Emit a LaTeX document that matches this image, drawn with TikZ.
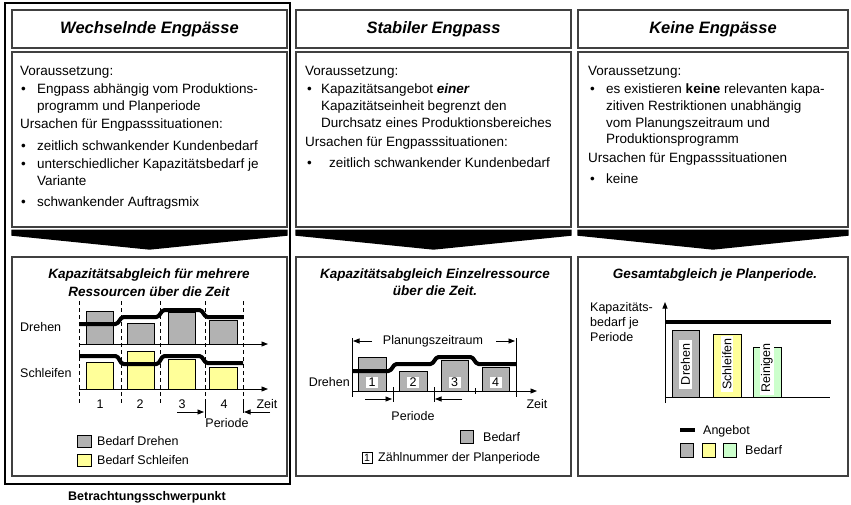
\documentclass[tikz,border=0pt]{standalone}
\usepackage{fontspec}
\setmainfont{Liberation Sans}
\usetikzlibrary{arrows.meta}
\definecolor{barGray}{RGB}{178,178,178}
\definecolor{barYellow}{RGB}{255,255,153}
\definecolor{barGreen}{RGB}{204,255,204}
\begin{document}
\begin{tikzpicture}[x=1pt,y=-1pt,
  panel/.style={draw=black!75, line width=1.4pt, inner sep=0},
  txt/.style={anchor=base west, inner sep=0, font=\fontsize{13.5}{16}\selectfont},
  ctitle/.style={anchor=base, inner sep=0, font=\fontsize{13.5}{16}\bfseries\itshape\selectfont},
  lbl/.style={inner sep=0, font=\fontsize{12.5}{15}\selectfont},
  barbox/.style={draw=black, line width=0.8pt},
  supply/.style={line width=4pt, line join=round, rounded corners=1.5pt},
  axisline/.style={line width=0.9pt},
  arrowline/.style={-{Triangle[length=6.5pt,width=5pt]}},
  chevron/.style={fill=black},
  dashline/.style={dash pattern=on 4pt off 3pt, line width=0.8pt},
  numbox/.style={fill=white, inner sep=0, minimum width=12pt, minimum height=11pt, font=\fontsize{12.5}{15}\selectfont}
]
\useasboundingbox (0,0) rectangle (851,505);

% ---------- panels ----------
\node[panel, minimum width=275pt, minimum height=38pt] (t1) at (149.5,29) {\fontsize{16.5}{19}\bfseries\itshape\selectfont Wechselnde Engpässe};
\node[panel, minimum width=275pt, minimum height=38pt] (t2) at (433.5,29) {\fontsize{16.5}{19}\bfseries\itshape\selectfont Stabiler Engpass};
\node[panel, minimum width=270pt, minimum height=38pt] (t3) at (713,29) {\fontsize{16.5}{19}\bfseries\itshape\selectfont Keine Engpässe};

\node[panel, minimum width=275pt, minimum height=175pt] (c1) at (149.5,139.5) {};
\node[panel, minimum width=275pt, minimum height=175pt] (c2) at (433.5,139.5) {};
\node[panel, minimum width=270pt, minimum height=175pt] (c3) at (713,139.5) {};

\node[panel, minimum width=275pt, minimum height=219pt] (b1) at (149.5,366.5) {};
\node[panel, minimum width=275pt, minimum height=219pt] (b2) at (433.5,366.5) {};
\node[panel, minimum width=270pt, minimum height=219pt] (b3) at (713,366.5) {};

% focus frame around the first column
\node[draw=black, line width=2.5pt, minimum width=285pt, minimum height=481pt, inner sep=0] (focus) at (147.5,243.5) {};
\node[inner sep=0, font=\fontsize{12.5}{15}\bfseries\selectfont] (focuslbl) at (147,497) {Betrachtungsschwerpunkt};

% ---------- chevrons between the boxes ----------
\foreach \c in {c1,c2,c3}
  \fill[chevron] ([yshift=-2pt]\c.south west) -- ([yshift=-2pt]\c.south east)
     -- ([yshift=-8pt]\c.south east) -- ([yshift=-22pt]\c.south)
     -- ([yshift=-8pt]\c.south west) -- cycle;

% ---------- column 1 text ----------
\node[txt] (a1) at (20,75.5) {Voraussetzung:};
\node[txt] (a2b) at (21,93.5) {•};
\node[txt] (a2) at (37,93.5) {Engpass abhängig vom Produktions-};
\node[txt] (a3) at (37,110.5) {programm und Planperiode};
\node[txt] (a4) at (20,128.5) {Ursachen für Engpasssituationen:};
\node[txt] (a5b) at (21,150.5) {•};
\node[txt] (a5) at (37,150.5) {zeitlich schwankender Kundenbedarf};
\node[txt] (a6b) at (21,168.5) {•};
\node[txt] (a6) at (37,168.5) {unterschiedlicher Kapazitätsbedarf je};
\node[txt] (a7) at (37,185.5) {Variante};
\node[txt] (a8b) at (21,206.5) {•};
\node[txt] (a8) at (37,206.5) {schwankender Auftragsmix};

% ---------- column 2 text ----------
\node[txt] (s1) at (305,75.5) {Voraussetzung:};
\node[txt] (s2b) at (307,93.5) {•};
\node[txt] (s2) at (321,93.5) {Kapazitätsangebot \textbf{\textit{einer}}};
\node[txt] (s3) at (321,110.5) {Kapazitätseinheit begrenzt den};
\node[txt] (s4) at (321,127.5) {Durchsatz eines Produktionsbereiches};
\node[txt] (s5) at (305,146.5) {Ursachen für Engpasssituationen:};
\node[txt] (s6b) at (307,167.5) {•};
\node[txt] (s6) at (329,167.5) {zeitlich schwankender Kundenbedarf};

% ---------- column 3 text ----------
\node[txt] (k1) at (588,75.5) {Voraussetzung:};
\node[txt] (k2b) at (590,93.5) {•};
\node[txt] (k2) at (606,93.5) {es existieren \textbf{keine} relevanten kapa-};
\node[txt] (k3) at (606,110.5) {zitiven Restriktionen unabhängig};
\node[txt] (k4) at (606,127.5) {vom Planungszeitraum und};
\node[txt] (k5) at (606,143.5) {Produktionsprogramm};
\node[txt] (k6) at (588,162.5) {Ursachen für Engpasssituationen};
\node[txt] (k7b) at (590,183.5) {•};
\node[txt] (k7) at (606,183.5) {keine};

% ---------- chart 1: several resources ----------
\node[ctitle] (h1a) at (149,278.5) {Kapazitätsabgleich für mehrere};
\node[ctitle] (h1b) at (149,296.5) {Ressourcen über die Zeit};

\foreach \x in {79,121,160,205,243} \draw[dashline] (\x,301) -- (\x,403);
\draw[line width=0.8pt] (205,403) -- (205,418);
\draw[line width=0.8pt] (243,403) -- (243,413);

\draw[barbox, fill=barGray] (86,311) rectangle (113,344);
\draw[barbox, fill=barGray] (127,323) rectangle (154,344);
\draw[barbox, fill=barGray] (168,312) rectangle (195,344);
\draw[barbox, fill=barGray] (209,320) rectangle (237,344);
\draw[barbox, fill=barYellow] (86,362) rectangle (113,389);
\draw[barbox, fill=barYellow] (127,351) rectangle (154,389);
\draw[barbox, fill=barYellow] (168,359) rectangle (195,389);
\draw[barbox, fill=barYellow] (209,367) rectangle (237,389);

\draw[axisline, arrowline] (79,344) -- (268,344);
\draw[axisline, arrowline] (79,389) -- (268,389);

\draw[supply] (79,324) -- (117,324) -- (122,317) -- (158,317) -- (163,310) -- (201,310) -- (206,317) -- (243,317);
\draw[supply] (79,356) -- (117,356) -- (122,364) -- (158,364) -- (163,356) -- (201,356) -- (206,363) -- (243,363);

\node[lbl, anchor=west] (d1) at (20,327) {Drehen};
\node[lbl, anchor=west] (sl1) at (20,373) {Schleifen};
\node[lbl] (n1) at (100,404) {1};
\node[lbl] (n2) at (140,404) {2};
\node[lbl] (n3) at (182,404) {3};
\node[lbl] (n4) at (224,404) {4};
\node[lbl] (z1) at (267,404) {Zeit};
\node[lbl] (p1) at (227,423) {Periode};
\coordinate (p1l) at (177,412);
\coordinate (p1r) at (270,412);
\draw[line width=0.8pt, arrowline] (p1l) -- (204,412);
\draw[line width=0.8pt, arrowline] (p1r) -- (244,412);

\node[barbox, fill=barGray, minimum width=14pt, minimum height=12pt, inner sep=0] (lg1) at (84,441) {};
\node[lbl, anchor=west] (lg1t) at (97,441) {Bedarf Drehen};
\node[barbox, fill=barYellow, minimum width=14pt, minimum height=12pt, inner sep=0] (lg2) at (84,460) {};
\node[lbl, anchor=west] (lg2t) at (97,460) {Bedarf Schleifen};

% ---------- chart 2: single resource ----------
\node[ctitle] (h2a) at (435,278.5) {Kapazitätsabgleich Einzelressource};
\node[ctitle] (h2b) at (435,295.5) {über die Zeit.};

\draw[line width=0.8pt] (352,338) -- (352,397);
\draw[line width=0.8pt] (516,338) -- (516,397);
\node[lbl] (pz) at (433,341) {Planungszeitraum};
\draw[line width=0.8pt, arrowline] (372,341) -- (353,341);
\draw[line width=0.8pt, arrowline] (496,341) -- (515,341);

\draw[barbox, fill=barGray] (358,357) rectangle (386,391);
\draw[barbox, fill=barGray] (399,371) rectangle (427,391);
\draw[barbox, fill=barGray] (441,360) rectangle (468,391);
\draw[barbox, fill=barGray] (482,367) rectangle (509,391);
\node[numbox] (q1) at (372,382.5) {1};
\node[numbox] (q2) at (413,382.5) {2};
\node[numbox] (q3) at (454.5,382.5) {3};
\node[numbox] (q4) at (495.5,382.5) {4};

\draw[axisline, arrowline] (352,391) -- (537,391);
\draw[line width=0.8pt] (393,387) -- (393,402);
\draw[line width=0.8pt] (434,387) -- (434,402);
\draw[line width=0.8pt] (475,388) -- (475,394);

\draw[supply] (352,371) -- (390,371) -- (395,364) -- (432,364) -- (437,357) -- (472,357) -- (477,364) -- (516,364);

\node[lbl, anchor=east] (d2) at (350,382) {Drehen};
\node[lbl] (z2) at (537,404) {Zeit};
\node[lbl] (p2) at (413,416) {Periode};
\draw[line width=0.8pt, arrowline] (365,399) -- (392,399);
\draw[line width=0.8pt, arrowline] (462,399) -- (435,399);

\node[barbox, fill=barGray, minimum width=13pt, minimum height=13pt, inner sep=0] (lg3) at (466.5,436.5) {};
\node[lbl, anchor=west] (lg3t) at (483,437) {Bedarf};
\node[draw=black, line width=0.7pt, minimum width=10pt, minimum height=11pt, inner sep=0, font=\fontsize{10.5}{12}\selectfont] (lg4) at (367,458) {1};
\node[lbl, anchor=west] (lg4t) at (378,458) {Zählnummer der Planperiode};

% ---------- chart 3: overall balance ----------
\node[ctitle] (h3) at (715,278.5) {Gesamtabgleich je Planperiode.};

\node[lbl, anchor=west] (y1) at (590,308) {Kapazitäts-};
\node[lbl, anchor=west] (y2) at (590,323) {bedarf je};
\node[lbl, anchor=west] (y3) at (590,337) {Periode};

\draw[barbox, fill=barGray] (672,330) rectangle (699,397);
\draw[barbox, fill=barYellow] (713,334) rectangle (741,397);
\draw[barbox, fill=barGreen] (753,347) rectangle (781,397);
\node[lbl, fill=white, rotate=90, inner xsep=4pt, inner ysep=1.5pt] (r1) at (685.5,364.5) {Drehen};
\node[lbl, fill=white, rotate=90, inner xsep=2pt, inner ysep=1.5pt] (r2) at (727,364) {Schleifen};
\node[lbl, fill=white, rotate=90, inner xsep=2pt, inner ysep=1.5pt] (r3) at (767,368) {Reinigen};

\draw[axisline, arrowline] (665,403) -- (665,302);
\draw[axisline] (665,397) -- (830,397);
\draw[line width=4pt] (665,322) -- (831,322);

\draw[line width=4pt] (680,430) -- (695,430);
\node[lbl, anchor=west] (lg5t) at (703,431) {Angebot};
\node[barbox, fill=barGray, minimum width=13pt, minimum height=14pt, inner sep=0] (lg6) at (686.5,450) {};
\node[barbox, fill=barYellow, minimum width=13pt, minimum height=14pt, inner sep=0] (lg7) at (708.5,450) {};
\node[barbox, fill=barGreen, minimum width=13pt, minimum height=14pt, inner sep=0] (lg8) at (730,450) {};
\node[lbl, anchor=west] (lg8t) at (745,450) {Bedarf};
\end{tikzpicture}
\end{document}
